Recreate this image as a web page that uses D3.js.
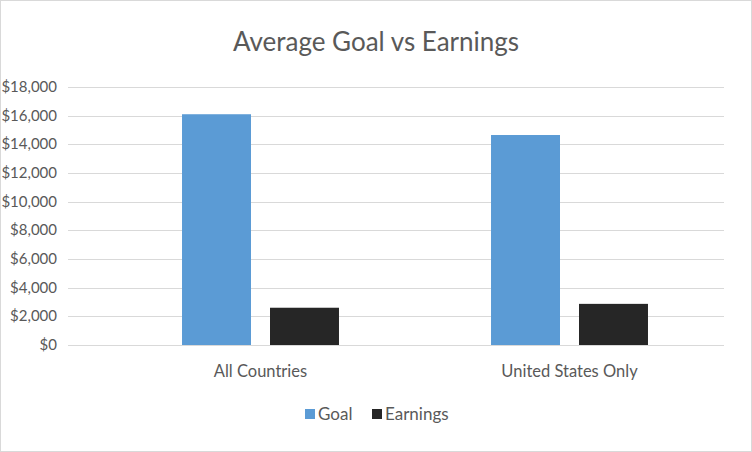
<!DOCTYPE html>
<html><head><meta charset="utf-8">
<script src="https://cdn.jsdelivr.net/npm/d3@7.9.0/dist/d3.min.js"></script>
<style>
body{margin:0;background:#fff;font-family:Lato,"Open Sans",sans-serif;}
</style></head><body>
<svg width="752" height="452"></svg>
<script>
const categories = ['All Countries', 'United States Only'];
const seriesNames = ['Goal', 'Earnings'];
const goal = [16100, 14650];
const earnings = [2600, 2870];
const yTicks = [0, 2000, 4000, 6000, 8000, 10000, 12000, 14000, 16000, 18000];
const colors = ['#5b9bd5', '#262626'];

const svg = d3.select('svg');
svg.append('rect').attr('x', 0.5).attr('y', 0.5).attr('width', 751).attr('height', 451)
  .attr('fill', '#fff').attr('stroke', '#d9d9d9');

const margin = { left: 68, right: 724, top: 87, bottom: 345 };
const x = d3.scaleBand().domain(categories).range([106, margin.right]);
const xs = d3.scaleBand().domain(seriesNames).range([0, x.bandwidth()]).paddingInner(0.216).paddingOuter(0.864);
const y = d3.scaleLinear().domain([0, 18000]).range([margin.bottom, margin.top]);

svg.append('text').attr('x', 376).attr('y', 51).attr('text-anchor', 'middle')
  .attr('font-size', 26).attr('fill', '#595959').text('Average Goal vs Earnings');

svg.append('g').selectAll('line').data(yTicks).join('line')
  .attr('x1', margin.left).attr('x2', margin.right)
  .attr('y1', d => Math.round(y(d)) + 0.5).attr('y2', d => Math.round(y(d)) + 0.5)
  .attr('stroke', '#d9d9d9');

svg.append('g').selectAll('text').data(yTicks).join('text')
  .attr('x', 57).attr('y', d => y(d) + 5).attr('text-anchor', 'end')
  .attr('font-size', 15).attr('fill', '#595959')
  .text(d => '$' + d3.format(',')(d));

const data = categories.map((c, i) => ({ c, vals: [goal[i], earnings[i]] }));
const groups = svg.append('g').selectAll('g').data(data).join('g')
  .attr('transform', d => `translate(${x(d.c)},0)`);
groups.selectAll('rect').data(d => d.vals.map((v, j) => ({ v, s: seriesNames[j], j }))).join('rect')
  .attr('x', d => xs(d.s)).attr('width', xs.bandwidth())
  .attr('y', d => y(d.v)).attr('height', d => y(0) - y(d.v))
  .attr('fill', d => colors[d.j]);

svg.append('g').selectAll('text').data(categories).join('text')
  .attr('x', d => x(d) + x.bandwidth() / 2).attr('y', 377).attr('text-anchor', 'middle')
  .attr('font-size', 16.5).attr('fill', '#595959').text(d => d);

const legend = svg.append('g');
const lx = [305, 372];
seriesNames.forEach((s, i) => {
  legend.append('rect').attr('x', lx[i]).attr('y', 409).attr('width', 10).attr('height', 10).attr('fill', colors[i]);
  legend.append('text').attr('x', lx[i] + 13).attr('y', 420).attr('font-size', 17).attr('fill', '#595959').text(s);
});
</script>
</body></html>
